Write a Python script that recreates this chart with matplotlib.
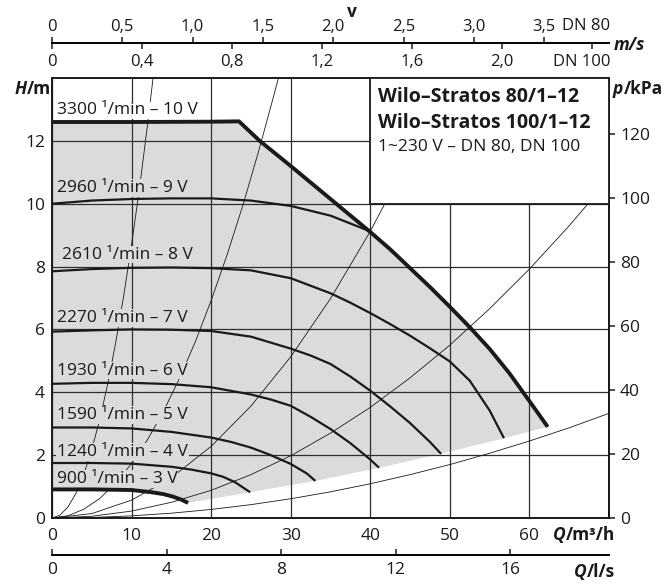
import numpy as np
import matplotlib
matplotlib.use("Agg")
from matplotlib import pyplot as plt
from matplotlib.patches import Rectangle

plt.rcParams['font.family'] = ['Open Sans', 'DejaVu Sans']
plt.rcParams['font.size'] = 12.5

# pump curves, Q in m3/h, H in m
q_10v = [0, 10, 20, 23.5, 26.1, 30, 35, 40, 42.5, 45, 47.5, 50, 52.5, 55, 57.5, 60, 62.3]
h_10v = [12.6, 12.6, 12.61, 12.62, 12.0, 11.2, 10.15, 9.1, 8.55, 7.95, 7.35, 6.72, 6.07, 5.38, 4.6, 3.72, 2.9]
q_9v = [0, 5, 10, 15, 20, 25, 30, 35, 40]
h_9v = [10.0, 10.1, 10.15, 10.17, 10.17, 10.1, 9.93, 9.62, 9.12]
q_8v = [0, 5, 10, 15, 20, 25, 30, 35, 37.5, 40, 42.5, 45, 47.5, 50, 52.5, 55, 56.8]
h_8v = [7.85, 7.92, 7.96, 7.97, 7.95, 7.88, 7.63, 7.15, 6.85, 6.52, 6.17, 5.8, 5.4, 4.98, 4.37, 3.42, 2.54]
q_7v = [0, 5, 10, 15, 20, 25, 30, 32.5, 35, 37.5, 40, 42.5, 45, 47.5, 48.9]
h_7v = [5.93, 5.97, 6.0, 5.99, 5.95, 5.77, 5.39, 5.17, 4.9, 4.5, 4.05, 3.55, 3.02, 2.42, 2.04]
q_6v = [0, 5, 10, 15, 20, 25, 27.5, 30, 32.5, 35, 37.5, 40, 41.1]
h_6v = [4.27, 4.3, 4.3, 4.26, 4.16, 3.93, 3.77, 3.57, 3.22, 2.83, 2.38, 1.86, 1.6]
q_5v = [0, 5, 10, 15, 20, 22.5, 25, 27.5, 30, 32, 33.1]
h_5v = [2.88, 2.88, 2.85, 2.74, 2.56, 2.42, 2.24, 2.0, 1.72, 1.42, 1.18]
q_4v = [0, 5, 10, 15, 17.5, 20, 21.5, 23, 24.9]
h_4v = [1.75, 1.75, 1.73, 1.63, 1.54, 1.42, 1.31, 1.14, 0.82]
q_3v = [0, 5, 10, 12.5, 14, 15.2, 16.2, 17.1]
h_3v = [0.91, 0.91, 0.89, 0.82, 0.76, 0.68, 0.59, 0.48]

speed_labels = ["3300 ¹/min – 10 V", "2960 ¹/min – 9 V", "2610 ¹/min – 8 V",
                "2270 ¹/min – 7 V", "1930 ¹/min – 6 V", "1590 ¹/min – 5 V",
                "1240 ¹/min – 4 V", "900 ¹/min – 3 V"]
label_q = [0.6, 0.6, 1.25, 0.6, 0.6, 0.6, 0.6, 0.6]
label_h = [12.97, 10.5, 8.38, 6.36, 4.69, 3.28, 2.09, 1.24]

# system curves (thin lines from the origin)
sys_a_q = [0, 1, 2, 3, 4, 5, 6, 7, 8, 9, 10, 11, 12, 12.7]
sys_a_h = [0, 0.09, 0.35, 0.78, 1.39, 2.18, 3.13, 4.26, 5.57, 7.05, 8.7, 10.5, 12.5, 14.0]
sys_b_q = [0, 2, 4, 6, 8, 10, 12, 14, 16, 18, 20, 22, 24, 26, 28, 28.45]
sys_b_h = [0, 0.07, 0.28, 0.62, 1.11, 1.73, 2.49, 3.39, 4.43, 5.6, 6.92, 8.37, 9.96, 11.7, 13.56, 14.0]
sys_c_q = [0, 5, 10, 15, 20, 25, 30, 35, 40, 45, 49.6]
sys_c_h = [0, 0.14, 0.57, 1.28, 2.28, 3.56, 5.13, 6.98, 9.12, 11.54, 14.0]
sys_d_q = [0, 5, 10, 15, 20, 25, 30, 35, 40, 45, 50, 55, 60, 65, 70]
sys_d_h = [0, 0.055, 0.22, 0.5, 0.88, 1.38, 1.98, 2.7, 3.52, 4.46, 5.5, 6.66, 7.92, 9.3, 10.78]
sys_e_q = [0, 5, 10, 15, 20, 25, 30, 35, 40, 45, 50, 55, 60, 65, 70]
sys_e_h = [0, 0.017, 0.068, 0.153, 0.272, 0.425, 0.612, 0.833, 1.09, 1.38, 1.70, 2.06, 2.45, 2.87, 3.33]

# secondary scales
v_dn80 = [0, 0.5, 1.0, 1.5, 2.0, 2.5, 3.0, 3.5]
v_dn80_labels = ["0", "0,5", "1,0", "1,5", "2,0", "2,5", "3,0", "3,5"]
v_dn100 = [0, 0.4, 0.8, 1.2, 1.6, 2.0, 2.4]
v_dn100_labels = ["0", "0,4", "0,8", "1,2", "1,6", "2,0", ""]
q_ls = [0, 4, 8, 12, 16]
kpa_ticks = [0, 20, 40, 60, 80, 100, 120]

QV_DN80 = 17.67    # m3/h per m/s
QV_DN100 = 28.27
Q_LS = 3.6
KPA_PER_M = 9.81

SHADE = '#dadbdd'
INK = '#1a1a1a'
GRID = '#2e2e2e'

W, H = 662, 584
fig = plt.figure(figsize=(W / 100, H / 100), dpi=100)

def fx(px):
    return px / W

def fy(py):
    return 1 - py / H

L, R, T, B = 52, 609, 78, 518
ax = fig.add_axes([fx(L), fy(B), fx(R - L), (B - T) / H])
ax.set_xlim(0, 70)
ax.set_ylim(0, 14)

# shaded operating field
curves = [(q_3v, h_3v), (q_4v, h_4v), (q_5v, h_5v), (q_6v, h_6v), (q_7v, h_7v), (q_8v, h_8v)]
end_q = [c[0][-1] for c in curves] + [q_10v[-1]]
end_h = [c[1][-1] for c in curves] + [h_10v[-1]]
poly_q = list(q_10v) + end_q[::-1][1:] + q_3v[::-1][1:]
poly_h = list(h_10v) + end_h[::-1][1:] + h_3v[::-1][1:]
ax.fill(poly_q, poly_h, color=SHADE, lw=0, zorder=0.2)

# grid
ax.set_xticks(range(0, 70, 10))
ax.set_yticks(range(0, 13, 2))
ax.set_axisbelow(True)
ax.grid(True, color=GRID, lw=0.9)
ax.axvline(70, color=GRID, lw=0.9)

# system curves
for q, h in [(sys_a_q, sys_a_h), (sys_b_q, sys_b_h), (sys_c_q, sys_c_h),
             (sys_d_q, sys_d_h), (sys_e_q, sys_e_h)]:
    ax.plot(q, h, color=INK, lw=0.6, zorder=2)

# pump curves
ax.plot(q_10v, h_10v, color=INK, lw=2.8, zorder=4, solid_capstyle='butt', solid_joinstyle='miter')
for q, h in [(q_9v, h_9v), (q_8v, h_8v), (q_7v, h_7v), (q_6v, h_6v), (q_5v, h_5v), (q_4v, h_4v)]:
    ax.plot(q, h, color=INK, lw=1.6, zorder=4, solid_capstyle='butt')
ax.plot(q_3v, h_3v, color=INK, lw=2.8, zorder=4, solid_capstyle='butt')

for i, (txt, q, h) in enumerate(zip(speed_labels, label_q, label_h)):
    bg = 'white' if i == 0 else SHADE
    ax.text(q, h, txt, fontsize=12.5, color=INK, ha='left', va='center', zorder=3.5,
            bbox=dict(facecolor=bg, edgecolor='none', pad=0.6))

# type box
ax.add_patch(Rectangle((40, 10), 30, 4, facecolor='white', edgecolor=INK, lw=1.3, zorder=5))
ax.text(41, 13.38, "Wilo–Stratos 80/1–12", fontsize=14, fontweight='bold', color=INK,
        ha='left', va='center', zorder=6)
ax.text(41, 12.58, "Wilo–Stratos 100/1–12", fontsize=14, fontweight='bold', color=INK,
        ha='left', va='center', zorder=6)
ax.text(41, 11.8, "1~230 V – DN 80, DN 100", fontsize=12.5, color=INK,
        ha='left', va='center', zorder=6)

for s in ax.spines.values():
    s.set_linewidth(1.4)
    s.set_color(INK)
ax.tick_params(axis='both', length=0, colors=INK, labelsize=12.5)
ax.tick_params(axis='x', pad=7)
ax.tick_params(axis='y', pad=5)

# pressure scale on the right
sec_y = ax.secondary_yaxis('right', functions=(lambda h: h * KPA_PER_M, lambda p: p / KPA_PER_M))
sec_y.set_yticks(kpa_ticks)
sec_y.tick_params(length=4, width=1.1, pad=4, labelsize=12.5, colors=INK)
sec_y.spines['right'].set_linewidth(1.4)

# velocity scale on top
ax_v = fig.add_axes([fx(L), fy(43), fx(R - L), 1e-5])
ax_v.set_xlim(0, 70)
ax_v.set_yticks([])
for s in ['top', 'left', 'right']:
    ax_v.spines[s].set_visible(False)
ax_v.spines['bottom'].set_linewidth(1.4)
ax_v.set_xticks([v * QV_DN100 for v in v_dn100])
ax_v.set_xticklabels(v_dn100_labels)
ax_v.tick_params(axis='x', direction='out', length=4, width=1.1, pad=4, labelsize=12, colors=INK)
ax_v.patch.set_visible(False)
sec_v = ax_v.secondary_xaxis('top', functions=(lambda q: q / QV_DN80, lambda v: v * QV_DN80))
sec_v.spines['top'].set_visible(False)
sec_v.set_xticks(v_dn80)
sec_v.set_xticklabels(v_dn80_labels)
sec_v.tick_params(axis='x', direction='out', length=4, width=1.1, pad=1.5, labelsize=12, colors=INK)

fig.text(fx(562), fy(26), "DN 80", fontsize=12, ha='left', va='center', color=INK)
fig.text(fx(553), fy(62), "DN 100", fontsize=12, ha='left', va='center', color=INK)
fig.text(fx(352), fy(12), "v", fontsize=12.5, fontweight='bold', ha='center', va='center', color=INK)

# flow scale in l/s at the bottom
ax_l = fig.add_axes([fx(L), fy(555), fx(R - L), 1e-5])
ax_l.set_xlim(0, 70)
ax_l.set_yticks([])
for s in ['top', 'left', 'right']:
    ax_l.spines[s].set_visible(False)
ax_l.spines['bottom'].set_linewidth(1.4)
ax_l.set_xticks([v * Q_LS for v in q_ls])
ax_l.set_xticklabels([str(v) for v in q_ls])
ax_l.tick_params(axis='x', direction='in', length=4, width=1.1, pad=5, labelsize=12.5, colors=INK)
ax_l.patch.set_visible(False)

def unit_label(px, py, sym, rest, size=12.5):
    t = fig.text(fx(px), fy(py), sym, fontsize=size, fontweight='bold', fontstyle='italic',
                 ha='left', va='center', color=INK)
    ax.annotate(rest, xy=(1, 0), xycoords=t, ha='left', va='bottom', fontsize=size,
                fontweight='bold', color=INK, annotation_clip=False)

unit_label(15, 89, "H", "/m")
unit_label(613, 89, "p", "/kPa")
unit_label(553, 535, "Q", "/m³/h")
unit_label(574, 572, "Q", "/l/s")
fig.text(fx(614), fy(45), "m/s", fontsize=12.5, fontweight='bold', fontstyle='italic',
         ha='left', va='center', color=INK)

fig.savefig("out.png", dpi=100)
